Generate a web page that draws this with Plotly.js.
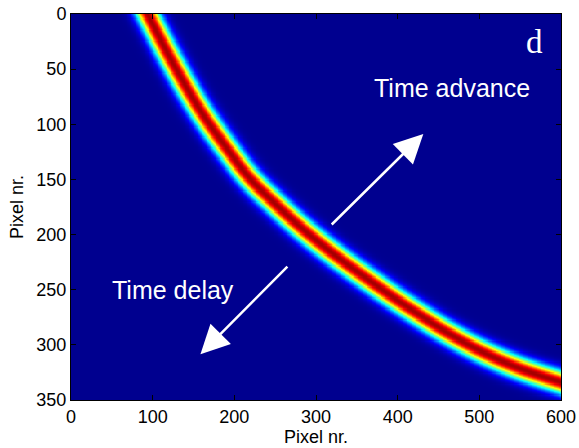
<!DOCTYPE html>
<html>
<head>
<meta charset="utf-8">
<script src="https://cdn.plot.ly/plotly-3.0.1.min.js"></script>
<style>
  html, body { margin: 0; padding: 0; background: #fff; }
  #chart { width: 579px; height: 448px; }
</style>
</head>
<body>
<div id="chart"></div>
<script>
// Ridge of the intensity band (pixel column, pixel row)
const ridgeX = [94, 123, 158, 194, 219, 250, 280, 310, 341, 390, 422, 460, 504, 550, 600];
const ridgeY = [0, 42, 87, 125, 149, 172, 192.5, 211, 228.5, 254.5, 270.5, 288.5, 306.5, 321.5, 334];

// Detector size
const nCols = 600;
const nRows = 350;

// Axis ticks
const xTicks = [0, 100, 200, 300, 400, 500, 600];
const yTicks = [0, 50, 100, 150, 200, 250, 300, 350];

// Band profile: width (screen pixels) and peak level
const sigmaPx = 7.6;
const peak = 0.96;

// MATLAB-style jet colormap
const jet = [
  [0.0, 'rgb(0,0,143)'],
  [0.11, 'rgb(0,0,255)'],
  [0.36, 'rgb(0,255,255)'],
  [0.61, 'rgb(255,255,0)'],
  [0.86, 'rgb(255,0,0)'],
  [1.0, 'rgb(128,0,0)']
];

// plot-area scale, px per data unit
const W = 579, H = 448;
const M = { l: 71, r: 18, t: 14, b: 48 };
const sx = (W - M.l - M.r) / nCols;
const sy = (H - M.t - M.b) / nRows;

// smooth the ridge with a Catmull-Rom spline, in screen units
const path = [];
for (let k = 0; k < ridgeX.length - 1; k++) {
  const p0 = [ridgeX[Math.max(k - 1, 0)] * sx, ridgeY[Math.max(k - 1, 0)] * sy];
  const p1 = [ridgeX[k] * sx, ridgeY[k] * sy];
  const p2 = [ridgeX[k + 1] * sx, ridgeY[k + 1] * sy];
  const p3 = [ridgeX[Math.min(k + 2, ridgeX.length - 1)] * sx, ridgeY[Math.min(k + 2, ridgeX.length - 1)] * sy];
  for (let s = 0; s < 8; s++) {
    const t = s / 8, t2 = t * t, t3 = t2 * t;
    const f = (a, b, c, d) => 0.5 * (2 * b + (-a + c) * t + (2 * a - 5 * b + 4 * c - d) * t2 + (-a + 3 * b - 3 * c + d) * t3);
    path.push([f(p0[0], p1[0], p2[0], p3[0]), f(p0[1], p1[1], p2[1], p3[1])]);
  }
}
path.push([ridgeX[ridgeX.length - 1] * sx, ridgeY[ridgeY.length - 1] * sy]);
// extend both ends so the band runs off the image edges
(function extend() {
  const a = path[0], b = path[1];
  path.unshift([a[0] + (a[0] - b[0]) * 10, a[1] + (a[1] - b[1]) * 10]);
  const n = path.length, c = path[n - 1], d = path[n - 2];
  path.push([c[0] + (c[0] - d[0]) * 10, c[1] + (c[1] - d[1]) * 10]);
})();

function distToRidge(px, py) {
  let best = Infinity;
  for (let k = 0; k < path.length - 1; k++) {
    const ax = path[k][0], ay = path[k][1];
    const dx = path[k + 1][0] - ax, dy = path[k + 1][1] - ay;
    let t = ((px - ax) * dx + (py - ay) * dy) / (dx * dx + dy * dy);
    if (t < 0) t = 0; else if (t > 1) t = 1;
    const qx = ax + t * dx - px, qy = ay + t * dy - py;
    const d2 = qx * qx + qy * qy;
    if (d2 < best) best = d2;
  }
  return best;
}

const xs = [], ys = [], z = [];
for (let i = 0; i < nCols; i++) xs.push(i + 0.5);
for (let j = 0; j < nRows; j++) ys.push(j + 0.5);
for (let j = 0; j < nRows; j++) {
  const row = new Array(nCols);
  for (let i = 0; i < nCols; i++) {
    const d2 = distToRidge(xs[i] * sx, ys[j] * sy);
    row[i] = peak * Math.exp(-d2 / (2 * sigmaPx * sigmaPx));
  }
  z.push(row);
}

const trace = {
  type: 'heatmap',
  x: xs, y: ys, z: z,
  zmin: 0, zmax: 1,
  colorscale: jet,
  showscale: false,
  hoverinfo: 'skip'
};

const font = { family: '"Liberation Sans", Arial, sans-serif', size: 18, color: '#000' };
const white = { family: '"Liberation Sans", Arial, sans-serif', size: 25, color: '#fff' };

const layout = {
  width: W, height: H,
  margin: { l: M.l, r: M.r, t: M.t, b: M.b, pad: 0 },
  paper_bgcolor: '#fff',
  plot_bgcolor: 'rgb(0,0,143)',
  font: font,
  xaxis: {
    range: [0, nCols], tickvals: xTicks, ticktext: xTicks.map(String),
    ticks: 'inside', ticklen: 5, tickcolor: '#000',
    showline: true, linecolor: '#000', linewidth: 1, mirror: 'ticks',
    showgrid: false, zeroline: false,
    tickfont: font,
    title: { text: 'Pixel nr.', font: font, standoff: 2 }
  },
  yaxis: {
    range: [nRows, 0], tickvals: yTicks, ticktext: yTicks.map(String),
    ticks: 'inside', ticklen: 5, tickcolor: '#000',
    showline: true, linecolor: '#000', linewidth: 1, mirror: 'ticks',
    showgrid: false, zeroline: false,
    tickfont: font,
    title: { text: 'Pixel nr.', font: font, standoff: 8 }
  },
  showlegend: false,
  annotations: [
    { x: 568, y: 25, xref: 'x', yref: 'y', text: 'd', showarrow: false,
      font: { family: '"Liberation Serif", "DejaVu Serif", serif', size: 33, color: '#fff' } },
    { x: 467, y: 67, xref: 'x', yref: 'y', text: 'Time advance', showarrow: false, font: white },
    { x: 125, y: 250, xref: 'x', yref: 'y', text: 'Time delay', showarrow: false, font: white },
    { x: 431.4, y: 108.8, ax: 317.4, ay: 192.2, xref: 'x', yref: 'y', axref: 'x', ayref: 'y',
      text: '', showarrow: true, arrowhead: 2, arrowsize: 2.3, arrowwidth: 2.5, arrowcolor: '#fff' },
    { x: 158.5, y: 308.5, ax: 266.8, ay: 227.6, xref: 'x', yref: 'y', axref: 'x', ayref: 'y',
      text: '', showarrow: true, arrowhead: 2, arrowsize: 2.3, arrowwidth: 2.5, arrowcolor: '#fff' }
  ]
};

Plotly.newPlot('chart', [trace], layout, { displayModeBar: false, staticPlot: true });
</script>
</body>
</html>
